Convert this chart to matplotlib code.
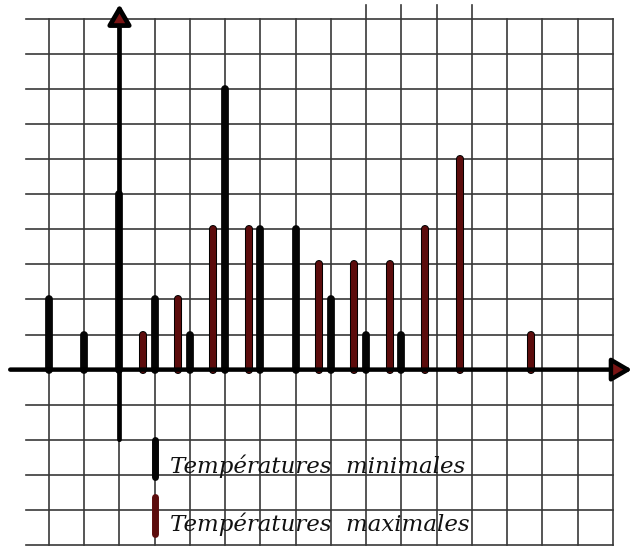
import matplotlib
matplotlib.use("Agg")
import matplotlib.pyplot as plt
import matplotlib.patheffects as pe

# temperature values (x) and number of days (y)
temp_min = [-2, -1, 0, 1, 2, 3, 4, 5, 6, 7, 8]
days_min = [2, 1, 5, 2, 1, 8, 4, 4, 2, 1, 1]
temp_max = [1, 2, 3, 4, 6, 7, 8, 9, 10, 12]
days_max = [1, 2, 4, 4, 3, 3, 3, 4, 6, 1]

labels = ["Températures  minimales", "Températures  maximales"]

black = "#050505"
maroon = "#5c0c0c"
grid_col = "#383838"

fig = plt.figure(figsize=(6.32, 5.46), dpi=100)
ax = fig.add_axes([0, 0, 1, 1])
ax.set_xlim(-3.39, 14.54)
ax.set_ylim(-5.03, 10.54)
ax.axis("off")

# squared paper
for gx in range(-2, 15):
    top = 10.4 if 7 <= gx <= 10 else 10
    ax.plot([gx, gx], [-5, top], color=grid_col, lw=1.2, zorder=1)
for gy in range(-5, 11):
    ax.plot([-2.65, 14], [gy, gy], color=grid_col, lw=1.2, zorder=1)

# axes with arrows
ax.annotate("", xy=(14.54, 0), xytext=(-3.1, 0),
            arrowprops=dict(arrowstyle="-|>,head_length=0.6,head_width=0.35",
                            lw=3.2, fc="#7a1414", ec="black",
                            shrinkA=0, shrinkB=0, mutation_scale=20),
            zorder=5)
ax.annotate("", xy=(0, 10.42), xytext=(0, -2),
            arrowprops=dict(arrowstyle="-|>,head_length=0.6,head_width=0.35",
                            lw=3.4, fc="#7a1414", ec="black",
                            shrinkA=0, shrinkB=0, mutation_scale=20),
            zorder=5)

# minimal temperatures: black bars on integer values
bars_min = ax.vlines(temp_min, 0, days_min, colors=black, lw=5.6, zorder=4)
bars_min.set_capstyle("round")

# maximal temperatures: maroon bars shifted a third to the left
shift = [t - 1 / 3 for t in temp_max]
bars_max = ax.vlines(shift, 0, days_max, colors=maroon, lw=4.4, zorder=4)
bars_max.set_capstyle("round")
bars_max.set_path_effects([pe.withStroke(linewidth=5.8, foreground="black",
                                         capstyle="round")])

# legend drawn on the paper
leg = ax.vlines([1, 1], [-2.0, -3.62], [-3.05, -4.7],
                colors=[black, maroon], lw=5.0, zorder=4)
leg.set_capstyle("round")
ax.text(1.43, -2.95, labels[0], family="DejaVu Serif", style="italic",
        fontsize=16.5, color="#111111", va="baseline", ha="left", zorder=6)
ax.text(1.43, -4.6, labels[1], family="DejaVu Serif", style="italic",
        fontsize=16.5, color="#111111", va="baseline", ha="left", zorder=6)

fig.savefig("out.png", dpi=100)
